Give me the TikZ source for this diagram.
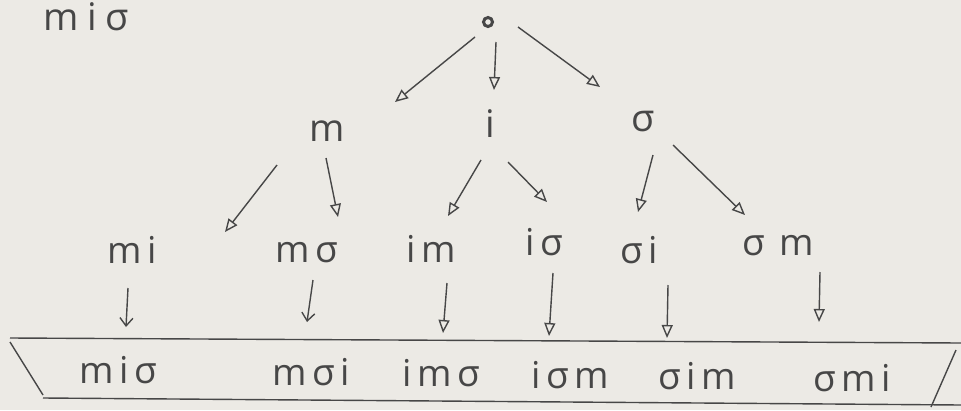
\documentclass[tikz,border=0pt]{standalone}
\usepackage{fontspec}
\setmainfont{Open Sans}
\newfontfamily\handA{Open Sans}[LetterSpace=15]
\newfontfamily\handT{Open Sans}[LetterSpace=22]
\usetikzlibrary{arrows.meta,calc}
\definecolor{paper}{HTML}{ECEAE5}
\definecolor{pencil}{HTML}{474747}
\begin{document}
\begin{tikzpicture}[x=1pt,y=-1pt,
 lbl/.style={inner sep=0pt, anchor=base, text=pencil, font=\handA\fontsize{37}{42}\selectfont},
 big/.style={inner sep=0pt, anchor=base, text=pencil, font=\fontsize{38}{44}\selectfont},
 ttl/.style={inner sep=0pt, anchor=base, text=pencil, font=\handT\fontsize{38}{44}\selectfont},
 arr/.style={draw=pencil, line width=1.4pt, -{Triangle[open,length=13pt,width=11pt,line width=1.4pt]}},
 barb/.style={draw=pencil, line width=1.4pt, -{Straight Barb[length=8pt,width=13pt,line width=1.4pt]}},
 rule/.style={draw=pencil, line width=1.4pt}]
\fill[paper] (0,0) rectangle (961,410);
\useasboundingbox (0,0) rectangle (961,410);
% title
\node[ttl] (title) at (86,30) {miσ};
% root
\node[circle, draw=pencil, line width=3pt, inner sep=0pt, minimum size=9pt, fill=paper] (root) at (488,22) {};
% level 1
\node[big] (m1) at (327,141) {m};
\node[big] (i1) at (490,137) {i};
\node[big] (s1) at (643,131) {σ};
% level 2
\node[lbl] (mi) at (132,263) {mi};
\node[lbl] (ms) at (307,262) {mσ};
\node[lbl] (im) at (431,262) {im};
\node[lbl] (is) at (544,255) {iσ};
\node[lbl] (si) at (639,263) {σi};
\node[lbl] (sm) at (778,255) {σ\kern14pt m};
% level 3
\node[lbl] (b1) at (118,383) {miσ};
\node[lbl] (b2) at (311,385) {mσi};
\node[lbl] (b3) at (441,386) {imσ};
\node[lbl] (b4) at (570,388) {iσm};
\node[lbl] (b5) at (697,389) {σim};
\node[lbl] (b6) at (852,391) {σmi};
% arrows
\draw[arr] ($(root)+(-13,15)$) -- ($(m1.base)+(68,-39)$);
\draw[arr] ($(root)+(8,20)$) -- ($(i1.base)+(4,-47)$);
\draw[arr] ($(root)+(30,5)$) -- ($(s1.base)+(-43,-44)$);
\draw[arr] ($(m1.base)+(-50,24)$) -- ($(mi.base)+(93,-31)$);
\draw[arr] ($(m1.base)+(-1,17)$) -- ($(ms.base)+(31,-45)$);
\draw[arr] ($(i1.base)+(-9,23)$) -- ($(im.base)+(17,-46)$);
\draw[arr] ($(i1.base)+(18,25)$) -- ($(is.base)+(3,-53)$);
\draw[arr] ($(s1.base)+(10,24)$) -- ($(si.base)+(-1,-51)$);
\draw[arr] ($(s1.base)+(30,14)$) -- ($(sm.base)+(-33,-40)$);
\draw[barb] ($(mi.base)+(-4,25)$) -- ($(b1.base)+(8,-56)$);
\draw[barb] ($(ms.base)+(6,18)$) -- ($(b2.base)+(-4,-63)$);
\draw[arr] ($(im.base)+(16,21)$) -- ($(b3.base)+(2,-53)$);
\draw[arr] ($(is.base)+(9,18)$) -- ($(b4.base)+(-21,-52)$);
\draw[arr] ($(si.base)+(29,22)$) -- ($(b5.base)+(-30,-51)$);
\draw[arr] ($(sm.base)+(42,17)$) -- ($(b6.base)+(-33,-69)$);
% bottom frame
\coordinate (tl) at (10,338);
\coordinate (tr) at (961,343);
\coordinate (sl) at (10,342);
\coordinate (bl) at (43,395);
\coordinate (bll) at (43,398);
\coordinate (br) at (961,405);
\coordinate (rs) at (956,350);
\coordinate (re) at (931,407);
\draw[rule] (tl) -- (tr);
\draw[rule] (bll) -- (br);
\draw[rule] (sl) -- (bl);
\draw[rule] (rs) -- (re);
\end{tikzpicture}
\end{document}
